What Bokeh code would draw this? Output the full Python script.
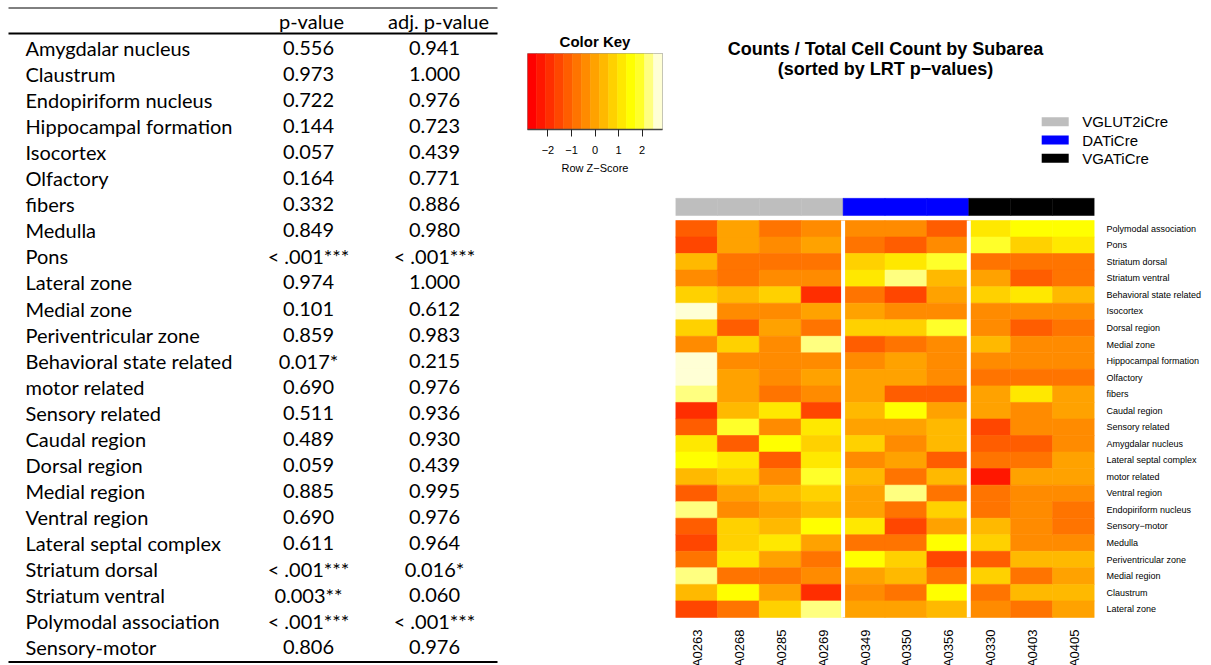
import numpy as np
from bokeh.plotting import figure
from bokeh.layouts import row, column
from bokeh.models import (ColumnDataSource, Range1d, FactorRange, LinearColorMapper,
                          FixedTicker, CategoricalColorMapper)
from bokeh.transform import transform, dodge
from bokeh.core.properties import value
from bokeh.embed import file_html
from bokeh.resources import INLINE

# ---------------- table data ----------------
table_header = ["p-value", "adj. p-value"]
table_regions = ["Amygdalar nucleus", "Claustrum", "Endopiriform nucleus", "Hippocampal formation",
                 "Isocortex", "Olfactory", "fibers", "Medulla", "Pons", "Lateral zone", "Medial zone",
                 "Periventricular zone", "Behavioral state related", "motor related", "Sensory related",
                 "Caudal region", "Dorsal region", "Medial region", "Ventral region",
                 "Lateral septal complex", "Striatum dorsal", "Striatum ventral",
                 "Polymodal association", "Sensory-motor"]
p_values = ["0.556", "0.973", "0.722", "0.144", "0.057", "0.164", "0.332", "0.849", "< .001***",
            "0.974", "0.101", "0.859", "0.017*", "0.690", "0.511", "0.489", "0.059", "0.885",
            "0.690", "0.611", "< .001***", "0.003**", "< .001***", "0.806"]
adj_p_values = ["0.941", "1.000", "0.976", "0.723", "0.439", "0.771", "0.886", "0.980", "< .001***",
                "1.000", "0.612", "0.983", "0.215", "0.976", "0.936", "0.930", "0.439", "0.995",
                "0.976", "0.964", "0.016*", "0.060", "< .001***", "0.976"]

# ---------------- heatmap data ----------------
heat_title = ["Counts / Total Cell Count by Subarea", "(sorted by LRT p\u2212values)"]
heat_rows = ["Polymodal association", "Pons", "Striatum dorsal", "Striatum ventral",
             "Behavioral state related", "Isocortex", "Dorsal region", "Medial zone",
             "Hippocampal formation", "Olfactory", "fibers", "Caudal region", "Sensory related",
             "Amygdalar nucleus", "Lateral septal complex", "motor related", "Ventral region",
             "Endopiriform nucleus", "Sensory\u2212motor", "Medulla", "Periventricular zone",
             "Medial region", "Claustrum", "Lateral zone"]
samples = ["A0263", "A0268", "A0285", "A0269", "A0349", "A0350", "A0356", "A0330", "A0403", "A0405"]
sample_groups = ["VGLUT2iCre", "VGLUT2iCre", "VGLUT2iCre", "VGLUT2iCre",
                 "DATiCre", "DATiCre", "DATiCre", "VGATiCre", "VGATiCre", "VGATiCre"]
groups = ["VGLUT2iCre", "DATiCre", "VGATiCre"]
group_colors = ["#BEBEBE", "#0000FF", "#000000"]

# row z-scores, one list per sample (rows in heat_rows order)
z_A0263 = [-1.15, -1.53, 0.38, -0.38, 0.77, 2.68, 0.77, -0.38, 2.68, 2.68, 2.30, -1.91,
           -1.15, 1.15, 1.53, 0.38, -1.15, 2.30, -1.15, -1.53, -0.77, 2.30, 0.38, -1.53]
z_A0268 = [0.00, 0.00, -0.77, -0.77, 0.38, -0.38, -1.15, 0.77, -0.38, 0.00, 0.00, 0.38,
           1.91, -1.15, 1.15, 0.77, 0.00, -0.38, 0.77, 0.77, 1.15, -0.77, 1.53, -0.77]
z_A0285 = [-0.77, -0.38, -0.77, -0.38, 0.77, -0.38, 0.00, -0.38, -0.38, -0.38, -0.77, 1.15,
           -0.38, 1.53, -1.15, -0.38, 0.38, 0.00, 0.38, 1.15, 0.00, -0.77, 0.00, 0.77]
z_A0269 = [-0.38, 0.00, -0.77, -0.38, -1.91, 0.00, -0.77, 2.30, -0.38, 0.00, -0.38, -1.53,
           1.15, 0.77, 1.15, 1.91, 0.77, 0.38, 1.53, 0.00, -0.77, -0.38, -1.91, 2.30]
z_A0349 = [-0.38, -0.77, 0.77, 1.15, -0.77, 0.00, 0.77, -1.15, -0.38, 0.00, 0.00, 0.38,
           0.00, 0.77, -0.38, 0.38, 0.00, 0.00, 1.15, -0.77, 1.53, 0.00, -0.38, 0.00]
z_A0350 = [-0.38, -1.15, 1.15, 2.30, -1.53, -0.38, 0.77, -0.77, 0.00, 0.00, -1.15, 1.53,
           0.00, -0.38, 0.00, -0.77, 2.30, -0.77, -1.53, -0.77, 0.77, 0.38, -0.77, 0.00]
z_A0356 = [-1.15, -0.38, 1.91, 0.38, 0.00, -0.38, 1.91, -0.38, -0.38, -0.38, -1.15, 0.00,
           0.38, 0.38, -1.15, 0.38, -0.77, 0.77, 0.00, 1.53, -1.53, -0.77, 1.53, 0.38]
z_A0330 = [1.15, 1.91, -0.77, 0.00, 0.77, -0.38, -0.38, 0.38, -0.38, -0.77, 0.00, 0.00,
           -1.53, -1.15, -0.77, -2.30, -0.77, -0.77, 0.38, 0.77, -1.15, 0.77, -0.77, -0.38]
z_A0403 = [1.53, 0.77, -0.77, -1.15, 1.15, -0.38, -1.15, -0.38, -0.38, -0.77, 1.15, -0.38,
           -0.38, -1.15, -0.77, 0.00, -0.38, -0.38, -0.38, -0.38, 0.38, -0.77, 0.38, -0.77]
z_A0405 = [1.53, 1.15, -0.77, -0.77, 0.38, -0.38, -0.77, -0.38, -0.38, -0.77, 0.00, 0.00,
           -0.38, -0.38, 0.00, 0.00, -0.38, -0.77, -0.77, -0.38, 0.38, 0.00, 0.38, 0.00]
z_by_sample = {"A0263": z_A0263, "A0268": z_A0268, "A0285": z_A0285, "A0269": z_A0269,
               "A0349": z_A0349, "A0350": z_A0350, "A0356": z_A0356, "A0330": z_A0330,
               "A0403": z_A0403, "A0405": z_A0405}

# colour key
heat_palette = ["#FF0000", "#FF1700", "#FF2E00", "#FF4600", "#FF5D00", "#FF7400", "#FF8B00",
                "#FFA200", "#FFB900", "#FFD100", "#FFE800", "#FFFF00", "#FFFF2A", "#FFFF80",
                "#FFFFD5"]
z_low, z_high = -2.87, 2.87
key_ticks = [-2, -1, 0, 1, 2]

SANS = "Liberation Sans"
TFONT = "Lato"


def clean(p):
    p.xgrid.visible = False
    p.ygrid.visible = False
    p.background_fill_color = "white"
    p.border_fill_color = "white"


# ---------------- table figure (page x 0..513, y 0..665) ----------------
T_C0, T_STEP = 47.6, 26.04


def trow(pg):
    return (pg - T_C0) / T_STEP


tp = figure(width=513, height=665, x_range=Range1d(0, 513), y_range=Range1d(trow(665), trow(0)),
            min_border=0, x_axis_location=None, y_axis_location=None, outline_line_color=None,
            toolbar_location=None, output_backend="svg", frame_align=False)
clean(tp)
tsrc = ColumnDataSource(dict(name=table_regions, p=p_values, adj=adj_p_values,
                             i=list(range(len(table_regions)))))
common = dict(text_font=value(TFONT), text_font_size="20px", text_baseline="middle",
              text_color="#000000")
tp.text(x=25, y="i", text="name", text_align="left", source=tsrc, **common)
tp.text(x=308, y="i", text="p", text_align="center", source=tsrc, **common)
tp.text(x=434, y="i", text="adj", text_align="center", source=tsrc, **common)
tp.text(x=[311, 438], y=[trow(20.5)] * 2, text=table_header, text_align="center", **common)
tp.segment(x0=8, x1=497, y0=trow(7.5), y1=trow(7.5), line_color="black", line_width=1)
tp.segment(x0=8, x1=497, y0=trow(33), y1=trow(33), line_color="black", line_width=2)
tp.segment(x0=8, x1=497, y0=trow(661.5), y1=trow(661.5), line_color="black", line_width=2)

# ---------------- colour key figure (page x 513..675, y 0..188) ----------------
mapper = LinearColorMapper(palette=heat_palette, low=z_low, high=z_high)
kp = figure(width=162, height=188, x_range=Range1d(z_low, z_high), y_range=Range1d(0, 1),
            min_border_left=14, min_border_right=13, min_border_top=53, min_border_bottom=59,
            y_axis_location=None, toolbar_location=None, output_backend="svg",
            title="Color Key", frame_align=False)
clean(kp)
edges = np.linspace(z_low, z_high, len(heat_palette) + 1)
kp.quad(left=edges[:-1], right=edges[1:], bottom=0, top=1, fill_color=heat_palette,
        line_color=heat_palette, line_width=0.5)
kp.outline_line_color = "#9A9A9A"
kp.title.text_font = SANS
kp.title.text_font_size = "15px"
kp.title.text_font_style = "bold"
kp.title.align = "center"
kp.title.text_color = "#000000"
kp.title.standoff = 8
ax = kp.xaxis[0]
ax.ticker = FixedTicker(ticks=key_ticks)
ax.major_label_overrides = {t: str(t).replace("-", "\u2212") for t in key_ticks}
ax.major_tick_out = 7
ax.major_tick_in = 0
ax.minor_tick_line_color = None
ax.axis_line_color = "#444444"
ax.axis_line_width = 1.5
ax.major_tick_line_color = "#222222"
ax.major_label_text_font = SANS
ax.major_label_text_font_size = "11px"
ax.major_label_text_color = "#000000"
ax.major_label_standoff = 9
ax.axis_label = "Row Z\u2212Score"
ax.axis_label_text_font = SANS
ax.axis_label_text_font_size = "11px"
ax.axis_label_text_font_style = "normal"
ax.axis_label_text_color = "#000000"
ax.axis_label_standoff = 5

# ---------------- title / legend figure (page x 675..1211, y 0..188) ----------------
hp_top = figure(width=536, height=188, x_range=Range1d(675, 1211), y_range=Range1d(188, 0),
                min_border=0, x_axis_location=None, y_axis_location=None,
                outline_line_color=None, toolbar_location=None, output_backend="svg",
                frame_align=False)
clean(hp_top)
hp_top.text(x=885, y=[48.5, 68.8], text=heat_title, text_align="center",
            text_baseline="middle", text_font=value(SANS), text_font_size="18px",
            text_font_style="bold", text_color="#000000")
hp_top.rect(x=1054.7, y=[121.2, 139.5, 157.7], width=27, height=9, fill_color=group_colors,
            line_color=None)
hp_top.text(x=1081.7, y=[121.4, 139.7, 157.9], text=groups, text_align="left",
            text_baseline="middle", text_font=value(SANS), text_font_size="15px",
            text_color="#000000")

# ---------------- heatmap figure (page x 513..1211, y 188..665) ----------------
ROW_H = 16.54


def hy(pg):
    return -0.5 + (pg - 220) / ROW_H


hm = figure(width=698, height=477, x_range=FactorRange(factors=samples),
            y_range=Range1d(hy(665), hy(197)),
            min_border_left=162, min_border_right=117, min_border_top=9, min_border_bottom=0,
            x_axis_location=None, y_axis_location="right", outline_line_color=None,
            toolbar_location=None, output_backend="svg", frame_align=False)
clean(hm)

xs, ys, zs = [], [], []
for s in samples:
    for i, _ in enumerate(heat_rows):
        xs.append(s)
        ys.append(i)
        zs.append(z_by_sample[s][i])
cells = ColumnDataSource(dict(x=xs, y=ys, z=zs))
hm.rect(x="x", y="y", width=1, height=1, source=cells, fill_color=transform("z", mapper),
        line_color=transform("z", mapper), line_width=0.6)

# column side colours
gmap = CategoricalColorMapper(factors=groups, palette=group_colors)
side = ColumnDataSource(dict(x=samples, g=sample_groups))
hm.rect(x="x", y=hy(206.35), width=1, height=17.3 / ROW_H, source=side,
        fill_color=transform("g", gmap), line_color=transform("g", gmap), line_width=0.5)

# white column separators between groups
sep_x = [samples[k] for k in range(len(samples) - 1) if sample_groups[k] != sample_groups[k + 1]]
sep = ColumnDataSource(dict(x=sep_x))
hm.rect(x=dodge("x", 0.5, range=hm.x_range), y=(len(heat_rows) - 1) / 2, width=4,
        width_units="screen", height=len(heat_rows), source=sep, fill_color="white",
        line_color=None)

# column labels (vertical, below the heatmap)
hm.text(x=samples, y=hy(629), text=samples, angle=np.pi / 2, text_align="right",
        text_baseline="alphabetic", x_offset=1, text_font=value(SANS), text_font_size="13px",
        text_color="#000000")

# row labels on the right axis
ya = hm.yaxis[0]
ya.ticker = FixedTicker(ticks=list(range(len(heat_rows))))
ya.major_label_overrides = {i: r for i, r in enumerate(heat_rows)}
ya.axis_line_color = None
ya.major_tick_line_color = None
ya.minor_tick_line_color = None
ya.major_tick_out = 0
ya.major_tick_in = 0
ya.major_label_standoff = 12
ya.major_label_text_font = SANS
ya.major_label_text_font_size = "9px"
ya.major_label_text_color = "#000000"

layout = row(tp, column(row(kp, hp_top), hm))
open("out.html", "w").write(file_html(layout, INLINE))
